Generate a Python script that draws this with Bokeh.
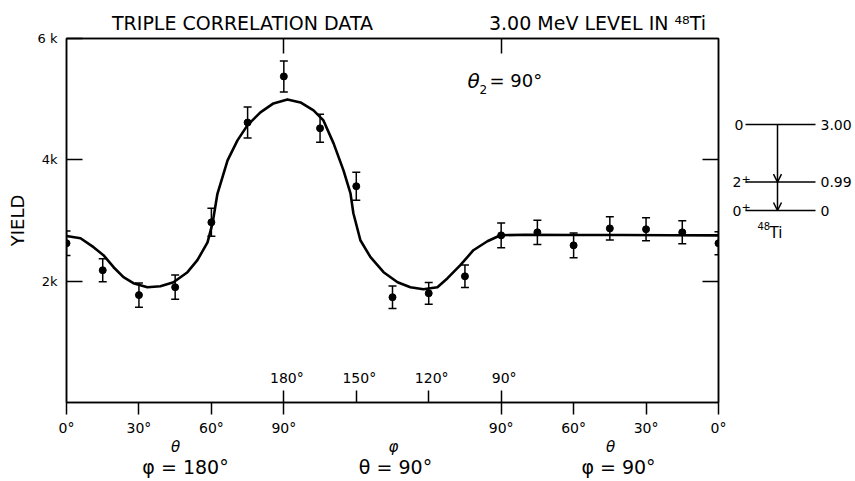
import math
from bokeh.plotting import figure
from bokeh.models import (Range1d, LinearAxis, FixedTicker, Label, Whisker, TeeHead,
                          ColumnDataSource, Arrow, OpenHead)
from bokeh.layouts import row
from bokeh.embed import file_html
from bokeh.resources import INLINE

# ---------------- data ----------------
# segment A: theta scanned, phi = 180 deg
theta_a = [0, 15, 30, 45, 60, 75, 90]
yield_a = [2625, 2180, 1770, 1900, 2970, 4615, 5375]
err_a = [200, 190, 200, 200, 230, 255, 255]
# segment B: phi scanned, theta = 90 deg
phi_b = [165, 150, 135, 120, 105, 90]
yield_b = [4520, 3565, 1735, 1800, 2080, 2755]
err_b = [230, 230, 185, 180, 185, 205]
# segment C: theta scanned back, phi = 90 deg
theta_c = [75, 60, 45, 30, 15, 0]
yield_c = [2805, 2590, 2870, 2855, 2805, 2625]
err_c = [200, 205, 190, 190, 190, 190]

# fitted curve, read along the composite path coordinate (0..270)
curve_s = [0, 5.8, 11.2, 15.3, 19.5, 23.6, 27.7, 33.5, 38.9, 44.3, 50.1, 54.2, 58.4,
           60.5, 62.5, 66.7, 70.8, 74.9, 80.3, 85.7, 91.5, 96.9, 102.3, 106.4, 110.6,
           114.7, 117.6, 118.8, 121.7, 125.9, 131.3, 137.1, 142.4, 147.8, 153.6, 157.8,
           163.1, 168.5, 174.3, 179.7, 190, 210, 230, 250, 270]
curve_y = [2745, 2708, 2560, 2428, 2230, 2066, 1967, 1901, 1917, 1983, 2148, 2346, 2640,
           2960, 3440, 3990, 4321, 4568, 4782, 4930, 4996, 4946, 4815, 4650, 4271,
           3827, 3448, 3119, 2675, 2395, 2148, 1983, 1901, 1868, 1901, 2049,
           2263, 2510, 2658, 2757, 2765, 2762, 2760, 2758, 2755]

theta_ticks = [0, 30, 60, 90]
theta_tick_labels = ["0°", "30°", "60°", "90°"]
phi_ticks = [180, 150, 120, 90]
phi_tick_labels = ["180°", "150°", "120°", "90°"]
yield_ticks = [2000, 4000, 6000]
yield_tick_labels = ["2k", "4k", "6 k"]

segment_vars = ["θ", "φ", "θ"]
segment_fixed = ["φ = 180°", "θ = 90°", "φ = 90°"]
titles = ["TRIPLE CORRELATION DATA", "3.00 MeV LEVEL IN ⁴⁸Ti"]

# level scheme of 48Ti
level_energy = [3.00, 0.99, 0.0]
level_energy_labels = ["3.00", "0.99", "0"]
level_spin = ["0", "2", "0"]
level_parity = ["", "+", "+"]

# ---------------- path coordinate ----------------
s_a = [t for t in theta_a]
s_b = [90 + (180 - f) for f in phi_b]
s_c = [180 + (90 - t) for t in theta_c]
s_all = s_a + s_b + s_c
y_all = yield_a + yield_b + yield_c
e_all = err_a + err_b + err_c
src = ColumnDataSource(dict(s=s_all, y=y_all,
                            upper=[y + e for y, e in zip(y_all, e_all)],
                            lower=[y - e for y, e in zip(y_all, e_all)]))

# ---------------- layout constants ----------------
W1, H = 732, 481
L, R, T, B = 66, 718, 38, 402
FW, FH = R - L, B - T
XMAX, YMAX = 270, 6000
FONT = "DejaVu Sans"


def X(px):
    return (px - L) * XMAX / FW


def Y(py):
    return (B - py) * YMAX / FH


p = figure(width=W1, height=H, x_range=Range1d(0, XMAX), y_range=Range1d(0, YMAX),
           output_backend="svg", toolbar_location=None,
           min_border_left=L, min_border_right=W1 - R, min_border_top=T,
           min_border_bottom=H - B)
p.grid.visible = False
p.outline_line_color = "black"
p.outline_line_width = 1.5
p.background_fill_color = "white"
p.border_fill_color = "white"

# bottom axis
bt = [t for t in theta_ticks] + [180 + (90 - t) for t in theta_ticks]
bl = theta_tick_labels + theta_tick_labels
minor = [90 + (180 - f) for f in phi_ticks]
xa = p.xaxis[0]
xa.ticker = FixedTicker(ticks=bt, minor_ticks=minor)
xa.major_label_overrides = {k: v for k, v in zip(bt, bl)}
xa.major_tick_in = 0
xa.major_tick_out = 12
xa.minor_tick_in = 12
xa.minor_tick_out = 0
xa.major_tick_line_width = 1.5
xa.minor_tick_line_width = 1.5
xa.axis_line_width = 1.5
xa.major_label_text_font = FONT
xa.major_label_text_font_size = "14px"
xa.major_label_text_color = "black"
xa.major_label_standoff = 5

# second and third rows below: which angle varies, which is fixed
seg_pos_var = [X(175), X(393), X(610)]
ax2 = LinearAxis(ticker=FixedTicker(ticks=seg_pos_var),
                 major_label_overrides={k: v for k, v in zip(seg_pos_var, segment_vars)},
                 axis_line_color=None, major_tick_line_color=None, minor_tick_line_color=None,
                 major_tick_out=0, major_tick_in=0, major_label_standoff=-1,
                 major_label_text_font=FONT, major_label_text_font_size="15px",
                 major_label_text_font_style="italic", major_label_text_color="black")
p.add_layout(ax2, "below")
seg_pos_fix = [X(185), X(395), X(618)]
ax3 = LinearAxis(ticker=FixedTicker(ticks=seg_pos_fix),
                 major_label_overrides={k: v for k, v in zip(seg_pos_fix, segment_fixed)},
                 axis_line_color=None, major_tick_line_color=None, minor_tick_line_color=None,
                 major_tick_out=0, major_tick_in=0, major_label_standoff=-3,
                 major_label_text_font=FONT, major_label_text_font_size="19px",
                 major_label_text_color="black")
p.add_layout(ax3, "below")

# left axis
ya = p.yaxis[0]
ya.ticker = FixedTicker(ticks=yield_ticks)
ya.major_label_overrides = {k: v for k, v in zip(yield_ticks, yield_tick_labels)}
ya.major_tick_in = 16
ya.major_tick_out = 0
ya.minor_tick_line_color = None
ya.major_tick_line_width = 1.5
ya.axis_line_width = 1.5
ya.major_label_text_font = FONT
ya.major_label_text_font_size = "13px"
ya.major_label_text_color = "black"
ya.major_label_standoff = 9
ya.axis_label = "YIELD"
ya.axis_label_text_font = FONT
ya.axis_label_text_font_size = "18px"
ya.axis_label_text_font_style = "normal"
ya.axis_label_text_color = "black"
ya.axis_label_standoff = 7

# right axis: inward ticks only
ra = LinearAxis(ticker=FixedTicker(ticks=[], minor_ticks=yield_ticks[:2]),
                minor_tick_in=16, minor_tick_out=0, major_tick_line_color=None,
                minor_tick_line_width=1.5, axis_line_width=1.5)
p.add_layout(ra, "right")
# top axis: inward ticks at 90/180 and the two headings
title_pos = [X(242), X(597)]
ta = LinearAxis(ticker=FixedTicker(ticks=title_pos, minor_ticks=[90, 180]),
                major_label_overrides={k: v for k, v in zip(title_pos, titles)},
                major_tick_line_color=None, major_tick_in=0, major_tick_out=0,
                minor_tick_in=15, minor_tick_out=0, minor_tick_line_width=1.5,
                axis_line_width=1.5, major_label_standoff=5,
                major_label_text_font=FONT, major_label_text_font_size="19px",
                major_label_text_color="black")
p.add_layout(ta, "above")

# curve, error bars, points
p.line(curve_s, curve_y, line_width=2.6, color="black", line_join="round")
p.add_layout(Whisker(base="s", upper="upper", lower="lower", source=src, line_width=1.5,
                     line_color="black",
                     upper_head=TeeHead(size=8, line_width=1.5, line_color="black"),
                     lower_head=TeeHead(size=8, line_width=1.5, line_color="black")))
p.scatter("s", "y", source=src, size=7, color="black")


def lab(plot, x, y, text, size, align="center", baseline="middle", style="normal", angle=0.0):
    plot.add_layout(Label(x=x, y=y, text=text, text_font=FONT, text_font_size=size,
                          text_align=align, text_baseline=baseline, text_font_style=style,
                          text_color="black", angle=angle))


# inside phi tick labels
for f, t in zip(phi_ticks, phi_tick_labels):
    lab(p, 90 + (180 - f) + X(L + 3), Y(377), t, "14px")

lab(p, X(473), Y(80), "θ", "20px", style="italic")
lab(p, X(479), Y(89), "2", "12px", align="left")
lab(p, X(489), Y(80), "= 90°", "18px", align="left")

# ---------------- level scheme ----------------
W2 = 855 - W1
PX_PER_MEV = (210 - 124) / 3.0
LV0 = 210


def QY(py):
    return (LV0 - py) / PX_PER_MEV


q = figure(width=W2, height=H, x_range=Range1d(W1, 855),
           y_range=Range1d(QY(B), QY(T)), output_backend="svg", toolbar_location=None,
           min_border_left=0, min_border_right=0, min_border_top=T, min_border_bottom=H - B)
q.axis.visible = False
q.grid.visible = False
q.outline_line_color = None
q.background_fill_color = "white"
q.border_fill_color = "white"

lsrc = ColumnDataSource(dict(e=level_energy))
q.segment(x0=745, x1=815, y0="e", y1="e", source=lsrc, line_width=1.5, color="black")
for e0, e1 in zip(level_energy[:-1], level_energy[1:]):
    q.add_layout(Arrow(x_start=777, y_start=e0, x_end=777, y_end=e1, line_width=1.5,
                       line_color="black",
                       end=OpenHead(size=8, line_width=1.5, line_color="black")))
for e, el, sp, par in zip(level_energy, level_energy_labels, level_spin, level_parity):
    if par:
        lab(q, 741, e, sp, "14px", align="right")
        lab(q, 741, e + 3.5 / PX_PER_MEV, par, "11px", align="left")
    else:
        lab(q, 743, e, sp, "14px", align="right")
    lab(q, 820, e, el, "14px", align="left")
lab(q, 757, QY(225), "48", "10px", align="left")
lab(q, 769, QY(232), "Ti", "15px", align="left")

layout = row(p, q, spacing=0)
open("out.html", "w").write(file_html(layout, INLINE))
